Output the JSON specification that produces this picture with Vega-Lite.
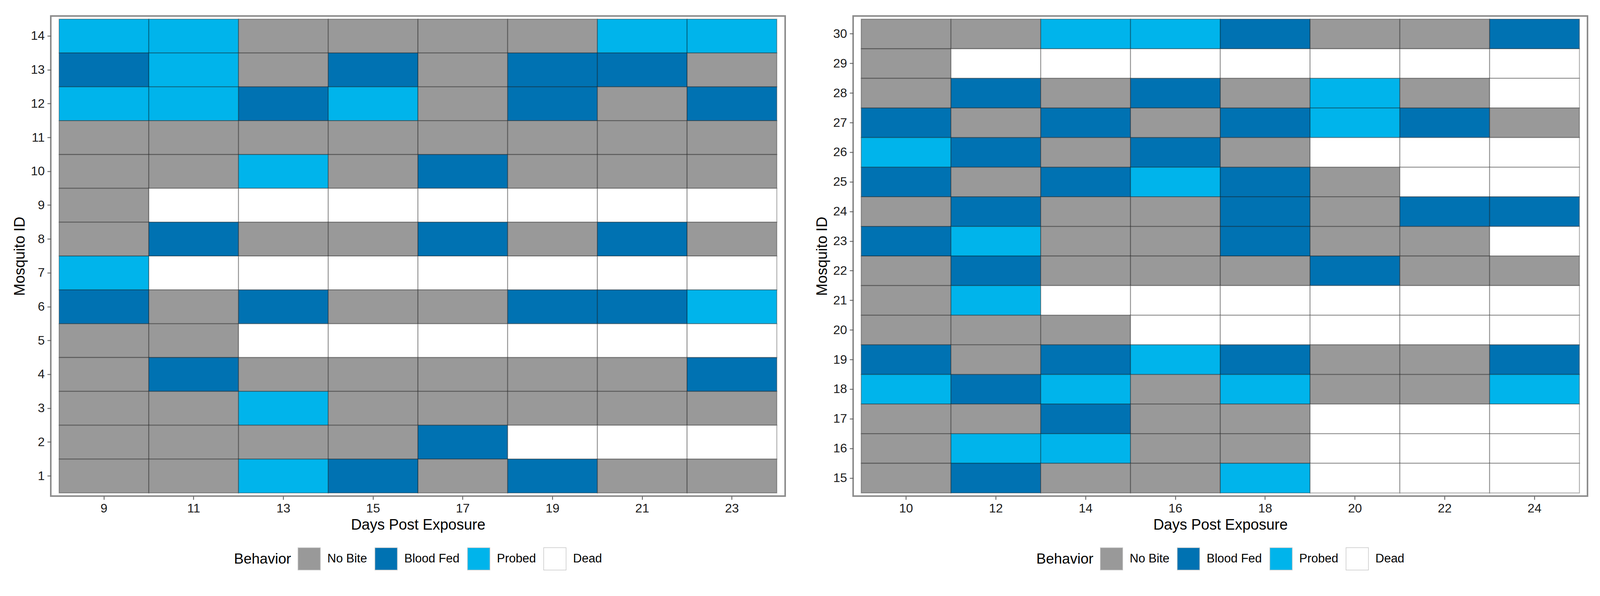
{
  "$schema": "https://vega.github.io/schema/vega-lite/v6.json",
  "background": "white",
  "padding": {"left": 30, "top": 39, "right": 10, "bottom": 10},
  "datasets": {
    "left": [
      {"day": 9, "mosquito": 14, "behavior": "Probed"}, {"day": 11, "mosquito": 14, "behavior": "Probed"}, {"day": 13, "mosquito": 14, "behavior": "No Bite"}, {"day": 15, "mosquito": 14, "behavior": "No Bite"}, {"day": 17, "mosquito": 14, "behavior": "No Bite"}, {"day": 19, "mosquito": 14, "behavior": "No Bite"}, {"day": 21, "mosquito": 14, "behavior": "Probed"}, {"day": 23, "mosquito": 14, "behavior": "Probed"},
      {"day": 9, "mosquito": 13, "behavior": "Blood Fed"}, {"day": 11, "mosquito": 13, "behavior": "Probed"}, {"day": 13, "mosquito": 13, "behavior": "No Bite"}, {"day": 15, "mosquito": 13, "behavior": "Blood Fed"}, {"day": 17, "mosquito": 13, "behavior": "No Bite"}, {"day": 19, "mosquito": 13, "behavior": "Blood Fed"}, {"day": 21, "mosquito": 13, "behavior": "Blood Fed"}, {"day": 23, "mosquito": 13, "behavior": "No Bite"},
      {"day": 9, "mosquito": 12, "behavior": "Probed"}, {"day": 11, "mosquito": 12, "behavior": "Probed"}, {"day": 13, "mosquito": 12, "behavior": "Blood Fed"}, {"day": 15, "mosquito": 12, "behavior": "Probed"}, {"day": 17, "mosquito": 12, "behavior": "No Bite"}, {"day": 19, "mosquito": 12, "behavior": "Blood Fed"}, {"day": 21, "mosquito": 12, "behavior": "No Bite"}, {"day": 23, "mosquito": 12, "behavior": "Blood Fed"},
      {"day": 9, "mosquito": 11, "behavior": "No Bite"}, {"day": 11, "mosquito": 11, "behavior": "No Bite"}, {"day": 13, "mosquito": 11, "behavior": "No Bite"}, {"day": 15, "mosquito": 11, "behavior": "No Bite"}, {"day": 17, "mosquito": 11, "behavior": "No Bite"}, {"day": 19, "mosquito": 11, "behavior": "No Bite"}, {"day": 21, "mosquito": 11, "behavior": "No Bite"}, {"day": 23, "mosquito": 11, "behavior": "No Bite"},
      {"day": 9, "mosquito": 10, "behavior": "No Bite"}, {"day": 11, "mosquito": 10, "behavior": "No Bite"}, {"day": 13, "mosquito": 10, "behavior": "Probed"}, {"day": 15, "mosquito": 10, "behavior": "No Bite"}, {"day": 17, "mosquito": 10, "behavior": "Blood Fed"}, {"day": 19, "mosquito": 10, "behavior": "No Bite"}, {"day": 21, "mosquito": 10, "behavior": "No Bite"}, {"day": 23, "mosquito": 10, "behavior": "No Bite"},
      {"day": 9, "mosquito": 9, "behavior": "No Bite"}, {"day": 11, "mosquito": 9, "behavior": "Dead"}, {"day": 13, "mosquito": 9, "behavior": "Dead"}, {"day": 15, "mosquito": 9, "behavior": "Dead"}, {"day": 17, "mosquito": 9, "behavior": "Dead"}, {"day": 19, "mosquito": 9, "behavior": "Dead"}, {"day": 21, "mosquito": 9, "behavior": "Dead"}, {"day": 23, "mosquito": 9, "behavior": "Dead"},
      {"day": 9, "mosquito": 8, "behavior": "No Bite"}, {"day": 11, "mosquito": 8, "behavior": "Blood Fed"}, {"day": 13, "mosquito": 8, "behavior": "No Bite"}, {"day": 15, "mosquito": 8, "behavior": "No Bite"}, {"day": 17, "mosquito": 8, "behavior": "Blood Fed"}, {"day": 19, "mosquito": 8, "behavior": "No Bite"}, {"day": 21, "mosquito": 8, "behavior": "Blood Fed"}, {"day": 23, "mosquito": 8, "behavior": "No Bite"},
      {"day": 9, "mosquito": 7, "behavior": "Probed"}, {"day": 11, "mosquito": 7, "behavior": "Dead"}, {"day": 13, "mosquito": 7, "behavior": "Dead"}, {"day": 15, "mosquito": 7, "behavior": "Dead"}, {"day": 17, "mosquito": 7, "behavior": "Dead"}, {"day": 19, "mosquito": 7, "behavior": "Dead"}, {"day": 21, "mosquito": 7, "behavior": "Dead"}, {"day": 23, "mosquito": 7, "behavior": "Dead"},
      {"day": 9, "mosquito": 6, "behavior": "Blood Fed"}, {"day": 11, "mosquito": 6, "behavior": "No Bite"}, {"day": 13, "mosquito": 6, "behavior": "Blood Fed"}, {"day": 15, "mosquito": 6, "behavior": "No Bite"}, {"day": 17, "mosquito": 6, "behavior": "No Bite"}, {"day": 19, "mosquito": 6, "behavior": "Blood Fed"}, {"day": 21, "mosquito": 6, "behavior": "Blood Fed"}, {"day": 23, "mosquito": 6, "behavior": "Probed"},
      {"day": 9, "mosquito": 5, "behavior": "No Bite"}, {"day": 11, "mosquito": 5, "behavior": "No Bite"}, {"day": 13, "mosquito": 5, "behavior": "Dead"}, {"day": 15, "mosquito": 5, "behavior": "Dead"}, {"day": 17, "mosquito": 5, "behavior": "Dead"}, {"day": 19, "mosquito": 5, "behavior": "Dead"}, {"day": 21, "mosquito": 5, "behavior": "Dead"}, {"day": 23, "mosquito": 5, "behavior": "Dead"},
      {"day": 9, "mosquito": 4, "behavior": "No Bite"}, {"day": 11, "mosquito": 4, "behavior": "Blood Fed"}, {"day": 13, "mosquito": 4, "behavior": "No Bite"}, {"day": 15, "mosquito": 4, "behavior": "No Bite"}, {"day": 17, "mosquito": 4, "behavior": "No Bite"}, {"day": 19, "mosquito": 4, "behavior": "No Bite"}, {"day": 21, "mosquito": 4, "behavior": "No Bite"}, {"day": 23, "mosquito": 4, "behavior": "Blood Fed"},
      {"day": 9, "mosquito": 3, "behavior": "No Bite"}, {"day": 11, "mosquito": 3, "behavior": "No Bite"}, {"day": 13, "mosquito": 3, "behavior": "Probed"}, {"day": 15, "mosquito": 3, "behavior": "No Bite"}, {"day": 17, "mosquito": 3, "behavior": "No Bite"}, {"day": 19, "mosquito": 3, "behavior": "No Bite"}, {"day": 21, "mosquito": 3, "behavior": "No Bite"}, {"day": 23, "mosquito": 3, "behavior": "No Bite"},
      {"day": 9, "mosquito": 2, "behavior": "No Bite"}, {"day": 11, "mosquito": 2, "behavior": "No Bite"}, {"day": 13, "mosquito": 2, "behavior": "No Bite"}, {"day": 15, "mosquito": 2, "behavior": "No Bite"}, {"day": 17, "mosquito": 2, "behavior": "Blood Fed"}, {"day": 19, "mosquito": 2, "behavior": "Dead"}, {"day": 21, "mosquito": 2, "behavior": "Dead"}, {"day": 23, "mosquito": 2, "behavior": "Dead"},
      {"day": 9, "mosquito": 1, "behavior": "No Bite"}, {"day": 11, "mosquito": 1, "behavior": "No Bite"}, {"day": 13, "mosquito": 1, "behavior": "Probed"}, {"day": 15, "mosquito": 1, "behavior": "Blood Fed"}, {"day": 17, "mosquito": 1, "behavior": "No Bite"}, {"day": 19, "mosquito": 1, "behavior": "Blood Fed"}, {"day": 21, "mosquito": 1, "behavior": "No Bite"}, {"day": 23, "mosquito": 1, "behavior": "No Bite"}
    ],
    "right": [
      {"day": 10, "mosquito": 30, "behavior": "No Bite"}, {"day": 12, "mosquito": 30, "behavior": "No Bite"}, {"day": 14, "mosquito": 30, "behavior": "Probed"}, {"day": 16, "mosquito": 30, "behavior": "Probed"}, {"day": 18, "mosquito": 30, "behavior": "Blood Fed"}, {"day": 20, "mosquito": 30, "behavior": "No Bite"}, {"day": 22, "mosquito": 30, "behavior": "No Bite"}, {"day": 24, "mosquito": 30, "behavior": "Blood Fed"},
      {"day": 10, "mosquito": 29, "behavior": "No Bite"}, {"day": 12, "mosquito": 29, "behavior": "Dead"}, {"day": 14, "mosquito": 29, "behavior": "Dead"}, {"day": 16, "mosquito": 29, "behavior": "Dead"}, {"day": 18, "mosquito": 29, "behavior": "Dead"}, {"day": 20, "mosquito": 29, "behavior": "Dead"}, {"day": 22, "mosquito": 29, "behavior": "Dead"}, {"day": 24, "mosquito": 29, "behavior": "Dead"},
      {"day": 10, "mosquito": 28, "behavior": "No Bite"}, {"day": 12, "mosquito": 28, "behavior": "Blood Fed"}, {"day": 14, "mosquito": 28, "behavior": "No Bite"}, {"day": 16, "mosquito": 28, "behavior": "Blood Fed"}, {"day": 18, "mosquito": 28, "behavior": "No Bite"}, {"day": 20, "mosquito": 28, "behavior": "Probed"}, {"day": 22, "mosquito": 28, "behavior": "No Bite"}, {"day": 24, "mosquito": 28, "behavior": "Dead"},
      {"day": 10, "mosquito": 27, "behavior": "Blood Fed"}, {"day": 12, "mosquito": 27, "behavior": "No Bite"}, {"day": 14, "mosquito": 27, "behavior": "Blood Fed"}, {"day": 16, "mosquito": 27, "behavior": "No Bite"}, {"day": 18, "mosquito": 27, "behavior": "Blood Fed"}, {"day": 20, "mosquito": 27, "behavior": "Probed"}, {"day": 22, "mosquito": 27, "behavior": "Blood Fed"}, {"day": 24, "mosquito": 27, "behavior": "No Bite"},
      {"day": 10, "mosquito": 26, "behavior": "Probed"}, {"day": 12, "mosquito": 26, "behavior": "Blood Fed"}, {"day": 14, "mosquito": 26, "behavior": "No Bite"}, {"day": 16, "mosquito": 26, "behavior": "Blood Fed"}, {"day": 18, "mosquito": 26, "behavior": "No Bite"}, {"day": 20, "mosquito": 26, "behavior": "Dead"}, {"day": 22, "mosquito": 26, "behavior": "Dead"}, {"day": 24, "mosquito": 26, "behavior": "Dead"},
      {"day": 10, "mosquito": 25, "behavior": "Blood Fed"}, {"day": 12, "mosquito": 25, "behavior": "No Bite"}, {"day": 14, "mosquito": 25, "behavior": "Blood Fed"}, {"day": 16, "mosquito": 25, "behavior": "Probed"}, {"day": 18, "mosquito": 25, "behavior": "Blood Fed"}, {"day": 20, "mosquito": 25, "behavior": "No Bite"}, {"day": 22, "mosquito": 25, "behavior": "Dead"}, {"day": 24, "mosquito": 25, "behavior": "Dead"},
      {"day": 10, "mosquito": 24, "behavior": "No Bite"}, {"day": 12, "mosquito": 24, "behavior": "Blood Fed"}, {"day": 14, "mosquito": 24, "behavior": "No Bite"}, {"day": 16, "mosquito": 24, "behavior": "No Bite"}, {"day": 18, "mosquito": 24, "behavior": "Blood Fed"}, {"day": 20, "mosquito": 24, "behavior": "No Bite"}, {"day": 22, "mosquito": 24, "behavior": "Blood Fed"}, {"day": 24, "mosquito": 24, "behavior": "Blood Fed"},
      {"day": 10, "mosquito": 23, "behavior": "Blood Fed"}, {"day": 12, "mosquito": 23, "behavior": "Probed"}, {"day": 14, "mosquito": 23, "behavior": "No Bite"}, {"day": 16, "mosquito": 23, "behavior": "No Bite"}, {"day": 18, "mosquito": 23, "behavior": "Blood Fed"}, {"day": 20, "mosquito": 23, "behavior": "No Bite"}, {"day": 22, "mosquito": 23, "behavior": "No Bite"}, {"day": 24, "mosquito": 23, "behavior": "Dead"},
      {"day": 10, "mosquito": 22, "behavior": "No Bite"}, {"day": 12, "mosquito": 22, "behavior": "Blood Fed"}, {"day": 14, "mosquito": 22, "behavior": "No Bite"}, {"day": 16, "mosquito": 22, "behavior": "No Bite"}, {"day": 18, "mosquito": 22, "behavior": "No Bite"}, {"day": 20, "mosquito": 22, "behavior": "Blood Fed"}, {"day": 22, "mosquito": 22, "behavior": "No Bite"}, {"day": 24, "mosquito": 22, "behavior": "No Bite"},
      {"day": 10, "mosquito": 21, "behavior": "No Bite"}, {"day": 12, "mosquito": 21, "behavior": "Probed"}, {"day": 14, "mosquito": 21, "behavior": "Dead"}, {"day": 16, "mosquito": 21, "behavior": "Dead"}, {"day": 18, "mosquito": 21, "behavior": "Dead"}, {"day": 20, "mosquito": 21, "behavior": "Dead"}, {"day": 22, "mosquito": 21, "behavior": "Dead"}, {"day": 24, "mosquito": 21, "behavior": "Dead"},
      {"day": 10, "mosquito": 20, "behavior": "No Bite"}, {"day": 12, "mosquito": 20, "behavior": "No Bite"}, {"day": 14, "mosquito": 20, "behavior": "No Bite"}, {"day": 16, "mosquito": 20, "behavior": "Dead"}, {"day": 18, "mosquito": 20, "behavior": "Dead"}, {"day": 20, "mosquito": 20, "behavior": "Dead"}, {"day": 22, "mosquito": 20, "behavior": "Dead"}, {"day": 24, "mosquito": 20, "behavior": "Dead"},
      {"day": 10, "mosquito": 19, "behavior": "Blood Fed"}, {"day": 12, "mosquito": 19, "behavior": "No Bite"}, {"day": 14, "mosquito": 19, "behavior": "Blood Fed"}, {"day": 16, "mosquito": 19, "behavior": "Probed"}, {"day": 18, "mosquito": 19, "behavior": "Blood Fed"}, {"day": 20, "mosquito": 19, "behavior": "No Bite"}, {"day": 22, "mosquito": 19, "behavior": "No Bite"}, {"day": 24, "mosquito": 19, "behavior": "Blood Fed"},
      {"day": 10, "mosquito": 18, "behavior": "Probed"}, {"day": 12, "mosquito": 18, "behavior": "Blood Fed"}, {"day": 14, "mosquito": 18, "behavior": "Probed"}, {"day": 16, "mosquito": 18, "behavior": "No Bite"}, {"day": 18, "mosquito": 18, "behavior": "Probed"}, {"day": 20, "mosquito": 18, "behavior": "No Bite"}, {"day": 22, "mosquito": 18, "behavior": "No Bite"}, {"day": 24, "mosquito": 18, "behavior": "Probed"},
      {"day": 10, "mosquito": 17, "behavior": "No Bite"}, {"day": 12, "mosquito": 17, "behavior": "No Bite"}, {"day": 14, "mosquito": 17, "behavior": "Blood Fed"}, {"day": 16, "mosquito": 17, "behavior": "No Bite"}, {"day": 18, "mosquito": 17, "behavior": "No Bite"}, {"day": 20, "mosquito": 17, "behavior": "Dead"}, {"day": 22, "mosquito": 17, "behavior": "Dead"}, {"day": 24, "mosquito": 17, "behavior": "Dead"},
      {"day": 10, "mosquito": 16, "behavior": "No Bite"}, {"day": 12, "mosquito": 16, "behavior": "Probed"}, {"day": 14, "mosquito": 16, "behavior": "Probed"}, {"day": 16, "mosquito": 16, "behavior": "No Bite"}, {"day": 18, "mosquito": 16, "behavior": "No Bite"}, {"day": 20, "mosquito": 16, "behavior": "Dead"}, {"day": 22, "mosquito": 16, "behavior": "Dead"}, {"day": 24, "mosquito": 16, "behavior": "Dead"},
      {"day": 10, "mosquito": 15, "behavior": "No Bite"}, {"day": 12, "mosquito": 15, "behavior": "Blood Fed"}, {"day": 14, "mosquito": 15, "behavior": "No Bite"}, {"day": 16, "mosquito": 15, "behavior": "No Bite"}, {"day": 18, "mosquito": 15, "behavior": "Probed"}, {"day": 20, "mosquito": 15, "behavior": "Dead"}, {"day": 22, "mosquito": 15, "behavior": "Dead"}, {"day": 24, "mosquito": 15, "behavior": "Dead"}
    ]
  },
  "spacing": 72,
  "hconcat": [
    {
      "width": 1880,
      "height": 1230,
      "data": {"name": "left"},
      "mark": {"type": "rect", "stroke": "#000000", "strokeOpacity": 0.3, "strokeWidth": 2.5},
      "encoding": {
        "x": {"field": "day", "type": "ordinal", "title": "Days Post Exposure", "scale": {"paddingInner": 0, "paddingOuter": 0.093}},
        "y": {"field": "mosquito", "type": "ordinal", "sort": "descending", "title": "Mosquito ID", "scale": {"paddingInner": 0, "paddingOuter": 0.093}},
        "color": {
          "field": "behavior", "type": "nominal", "title": "Behavior",
          "scale": {"domain": ["No Bite", "Blood Fed", "Probed", "Dead"], "range": ["#999999", "#0072B2", "#00B4EB", "#FFFFFF"]},
          "legend": {"orient": "bottom", "direction": "horizontal", "titleOrient": "left"}
        }
      }
    },
    {
      "width": 1880,
      "height": 1230,
      "data": {"name": "right"},
      "mark": {"type": "rect", "stroke": "#000000", "strokeOpacity": 0.3, "strokeWidth": 2.5},
      "encoding": {
        "x": {"field": "day", "type": "ordinal", "title": "Days Post Exposure", "scale": {"paddingInner": 0, "paddingOuter": 0.09}},
        "y": {"field": "mosquito", "type": "ordinal", "sort": "descending", "title": "Mosquito ID", "scale": {"paddingInner": 0, "paddingOuter": 0.106}},
        "color": {
          "field": "behavior", "type": "nominal", "title": "Behavior",
          "scale": {"domain": ["No Bite", "Blood Fed", "Probed", "Dead"], "range": ["#999999", "#0072B2", "#00B4EB", "#FFFFFF"]},
          "legend": {"orient": "bottom", "direction": "horizontal", "titleOrient": "left"}
        }
      }
    }
  ],
  "resolve": {
    "scale": {"x": "independent", "y": "independent", "color": "independent"},
    "legend": {"color": "independent"}
  },
  "config": {
    "font": "Liberation Sans",
    "view": {"stroke": "#8c8c8c", "strokeWidth": 4},
    "axis": {
      "grid": false, "domain": false,
      "tickColor": "#555555", "tickSize": 9, "tickWidth": 2,
      "labelFontSize": 32, "labelColor": "#1a1a1a", "labelPadding": 7,
      "titleFontSize": 38, "titleFontWeight": "normal", "titleColor": "#000000", "titlePadding": 8
    },
    "axisX": {"labelAngle": 0},
    "legend": {
      "titleFontSize": 37, "titleFontWeight": "normal", "titleColor": "#000000",
      "labelFontSize": 31, "labelColor": "#000000",
      "symbolType": "square", "symbolSize": 3300,
      "symbolStrokeColor": "#c8c8c8", "symbolStrokeWidth": 1.5,
      "labelOffset": 17, "columnPadding": 16, "titlePadding": 16, "offset": 38,
      "layout": {"bottom": {"anchor": "middle"}}
    }
  }
}
